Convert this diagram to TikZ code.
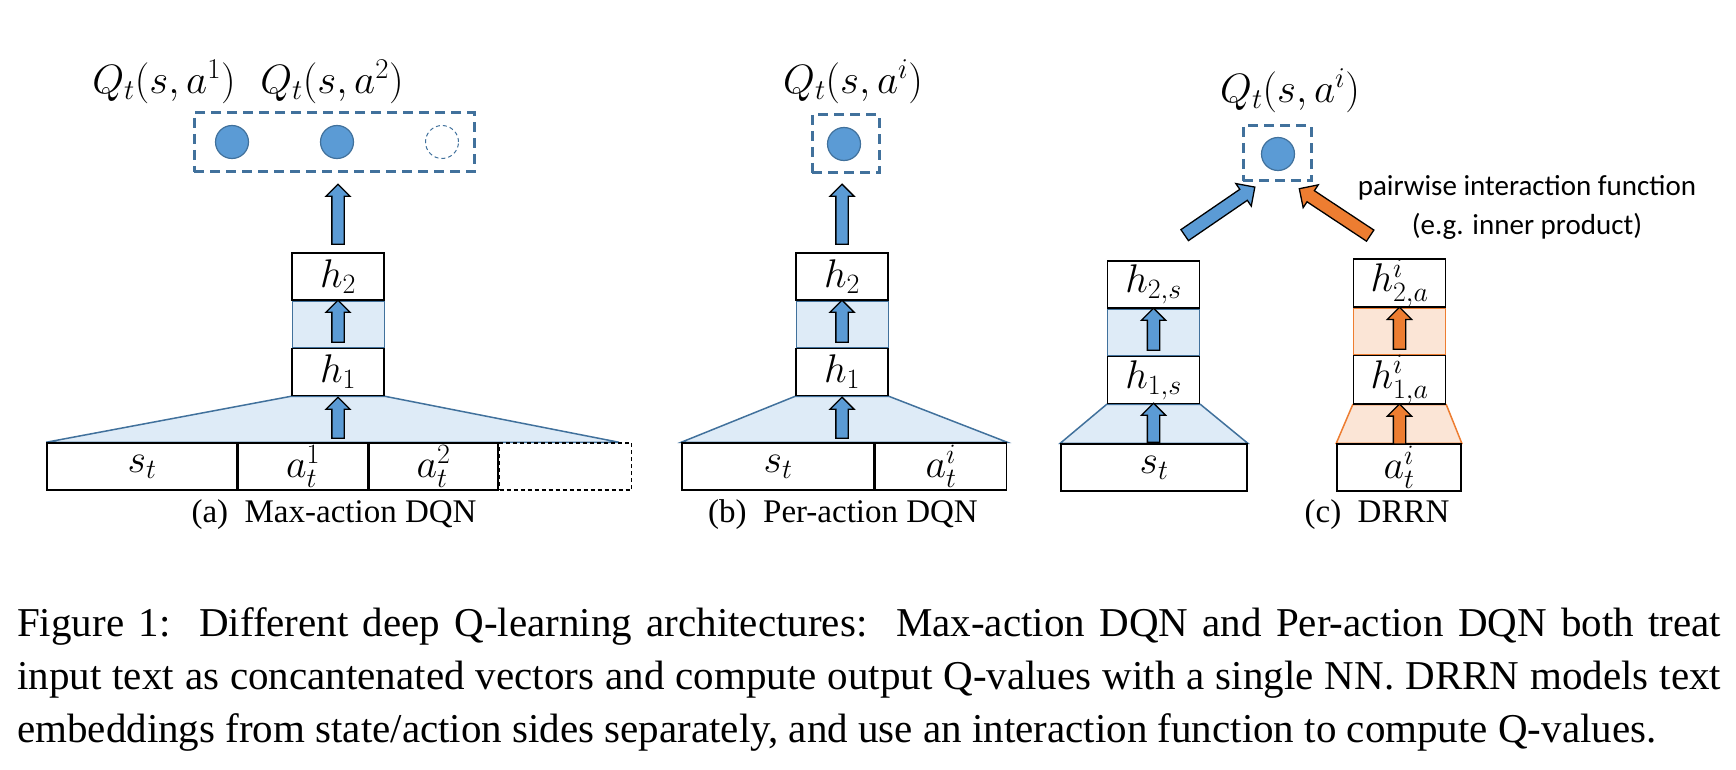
\RequirePackage{fix-cm}
\documentclass[tikz,border=0pt]{standalone}
\usepackage{fontspec}
\setmainfont{Liberation Serif}
\newfontfamily\calibri{Carlito}
\usepackage{tikz}
\usetikzlibrary{arrows.meta,shapes.arrows,positioning,calc,backgrounds}
\definecolor{qblue}{HTML}{5B9BD5}
\definecolor{qedge}{HTML}{41719C}
\definecolor{qpale}{HTML}{DEEBF7}
\definecolor{qorange}{HTML}{ED7D31}
\definecolor{qpeach}{HTML}{FBE5D6}
\newcommand\mfont{\fontsize{40}{44}\selectfont}
\newcommand\capfont{\fontsize{41}{52}\selectfont}
\tikzstyle{layer}=[draw,line width=1.5pt,fill=white,minimum width=92pt,minimum height=47pt,inner sep=0pt,font=\mfont]
\tikzstyle{gapb}=[draw=qedge,line width=1pt,fill=qpale,minimum width=92pt,minimum height=46pt,inner sep=0pt]
\tikzstyle{gapo}=[gapb,draw=qorange,fill=qpeach]
\tikzstyle{trapb}=[draw=qedge,line width=1.5pt,fill=qpale]
\tikzstyle{trapo}=[draw=qorange,line width=1.5pt,fill=qpeach]
\tikzstyle{inp}=[draw,line width=1.5pt,minimum height=47pt,inner sep=0pt,font=\mfont]
\tikzstyle{outbox}=[draw=qedge,line width=3pt,dash pattern=on 10pt off 6pt,inner sep=0pt]
\tikzstyle{qdot}=[circle,draw=qedge,line width=1.2pt,fill=qblue,minimum size=33pt,inner sep=0pt]
\tikzstyle{qempty}=[circle,draw=qedge,line width=1pt,dash pattern=on 4pt off 3pt,minimum size=33pt,inner sep=0pt]
\tikzstyle{fat}=[single arrow,draw,line width=1.3pt,fill=qblue,inner xsep=0pt,inner ysep=5.5pt,minimum width=23pt,
  single arrow head extend=6pt,single arrow head indent=0pt]
\tikzstyle{fato}=[fat,fill=qorange]
\tikzstyle{slant}=[inner ysep=6pt,single arrow head extend=7pt,minimum width=26pt,minimum height=85pt]
\tikzstyle{qlab}=[font=\fontsize{41}{44}\selectfont,inner sep=0pt]
\tikzstyle{sub}=[font=\fontsize{33}{40}\selectfont,inner sep=0pt]
\tikzstyle{capline}=[font=\capfont,inner sep=0pt,anchor=base west]

\begin{document}
\begin{tikzpicture}[x=1pt,y=-1pt]
\useasboundingbox (0,0) rectangle (1736,770);
% (a) max-action DQN
\node[layer] (ah2) at (338,276.5) {$h_2$};
\node[gapb,below=0pt of ah2] (ag) {};
\node[layer,below=0pt of ag] (ah1) {$h_1$};
\node[inp,minimum width=190pt] (ast) at (142,466.5) {$s_t$};
\node[inp,minimum width=129pt,right=0pt of ast] (aa1) {$a_t^1$};
\node[inp,minimum width=129pt,right=0pt of aa1] (aa2) {$a_t^2$};
\node[inp,minimum width=132pt,right=0pt of aa2,dash pattern=on 4pt off 3pt] (adots) {};
\begin{scope}[on background layer]
  \draw[trapb] (ah1.south west) -- (ah1.south east) -- ($(adots.north)!.8!(adots.north east)$)
    -- (ast.north west) -- cycle;
\end{scope}
\node[fat,rotate=90,minimum height=41pt] at ($(ah1.south)+(0,24.5)$) {};
\node[fat,rotate=90,minimum height=42pt] at (ag) {};
\node[fat,rotate=90,minimum height=60pt] at ($(ah2.north)+(0,-35)$) {};
\node[outbox,minimum width=280pt,minimum height=59pt] (aq) at (334,142.5) {};
\node[qdot] (aq1) at (232,142) {};
\node[qdot] (aq2) at (337,142) {};
\node[qempty] (aq3) at (442,142) {};
\node[qlab] at (164,82) {$Q_t(s,a^1)$};
\node[qlab] at (332,82) {$Q_t(s,a^2)$};
\node[sub] at (334,515) {(a)\hspace{.5em}Max-action DQN};

% (b) per-action DQN
\node[layer] (bh2) at (842,276.5) {$h_2$};
\node[gapb,below=0pt of bh2] (bg) {};
\node[layer,below=0pt of bg] (bh1) {$h_1$};
\node[inp,minimum width=192pt] (bst) at (778,466.5) {$s_t$};
\node[inp,minimum width=131pt,right=0pt of bst] (bai) {$a_t^i$};
\begin{scope}[on background layer]
  \draw[trapb] (bh1.south west) -- (bh1.south east) -- (bai.north east) -- (bst.north west) -- cycle;
\end{scope}
\node[fat,rotate=90,minimum height=41pt] at ($(bh1.south)+(0,24.5)$) {};
\node[fat,rotate=90,minimum height=42pt] at (bg) {};
\node[fat,rotate=90,minimum height=60pt] at ($(bh2.north)+(0,-35)$) {};
\node[outbox,minimum width=67pt,minimum height=58pt] (bq) at (845.5,144) {};
\node[qdot] (bq1) at (844,144) {};
\node[qlab] at (853,82) {$Q_t(s,a^i)$};
\node[sub] at (843,515) {(b)\hspace{.5em}Per-action DQN};

% (c) DRRN
\node[layer] (ch2) at (1153.5,284.5) {$h_{2,s}$};
\node[gapb,below=0pt of ch2] (cg) {};
\node[layer,below=0pt of cg] (ch1) {$h_{1,s}$};
\node[inp,minimum width=186pt] (cst) at (1154,467.5) {$s_t$};
\node[layer] (dh2) at (1399.5,283) {$h_{2,a}^i$};
\node[gapo,below=0pt of dh2] (dg) {};
\node[layer,below=0pt of dg] (dh1) {$h_{1,a}^i$};
\node[inp,minimum width=124pt] (dat) at (1399,467.5) {$a_t^i$};
\begin{scope}[on background layer]
  \draw[trapb] (ch1.south west) -- (ch1.south east) -- (cst.north east) -- (cst.north west) -- cycle;
  \draw[trapo] (dh1.south west) -- (dh1.south east) -- (dat.north east) -- (dat.north west) -- cycle;
\end{scope}
\node[fat,rotate=90,minimum height=39pt] at ($(ch1.south)+(0,21.5)$) {};
\node[fat,rotate=90,minimum height=42pt] at (cg) {};
\node[fato,rotate=90,minimum height=40pt] at ($(dh1.south)+(0,22.5)$) {};
\node[fato,rotate=90,minimum height=42pt] at (dg) {};
\node[outbox,minimum width=68pt,minimum height=55pt] (cq) at (1277,153.5) {};
\node[qdot] (cq1) at (1278,154) {};
\node[qlab] at (1290,91) {$Q_t(s,a^i)$};
\node[fat,slant,rotate=34.4] at (1217,213) {};
\node[fato,slant,rotate=146.5] at (1337.5,214) {};
\node[font=\calibri\fontsize{29}{39}\selectfont,align=center,inner sep=0pt] (pif) at (1527,207)
  {pairwise interaction function\\(e.g. inner product)};
\node[sub] at (1377,515) {(c)\hspace{.5em}DRRN};

% caption
\node[capline] (cap1) at (17,636) {\makebox[1704pt][s]{Figure 1:\ \ Different deep Q-learning architectures:\ \ Max-action DQN and Per-action DQN both treat}};
\node[capline] (cap2) at (17,689) {\makebox[1704pt][s]{input text as concantenated vectors and compute output Q-values with a single NN. DRRN models text}};
\node[capline] (cap3) at (17,742) {embeddings from state/action sides separately, and use an interaction function to compute Q-values.};
\end{tikzpicture}
\end{document}
